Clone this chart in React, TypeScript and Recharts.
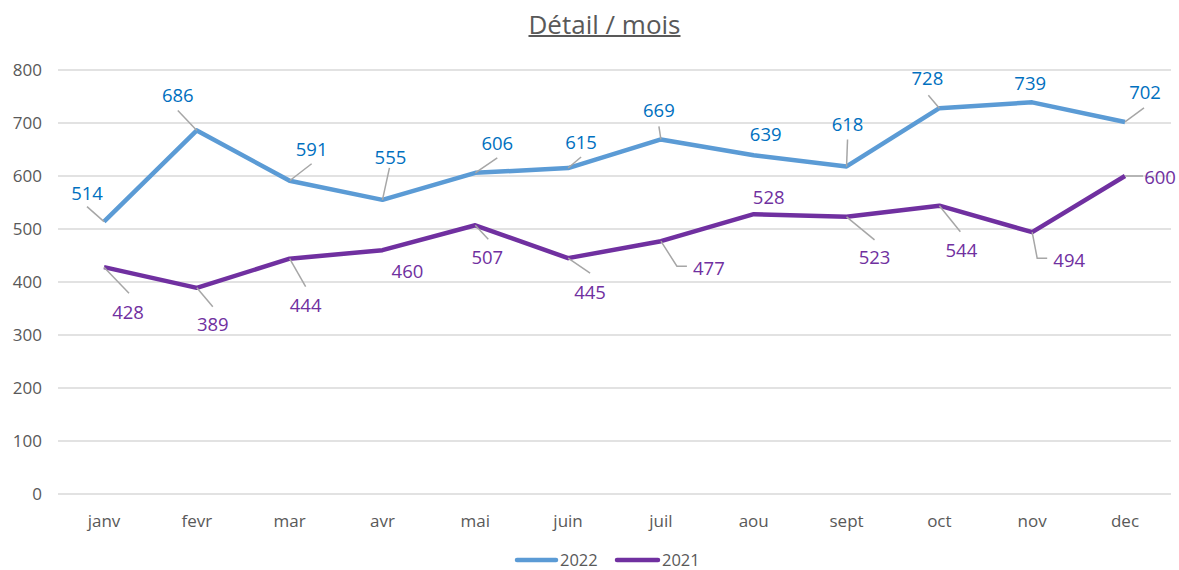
import React from 'react';
import { LineChart, Line, XAxis, YAxis, CartesianGrid, LabelList } from 'recharts';

const months = ['janv', 'fevr', 'mar', 'avr', 'mai', 'juin', 'juil', 'aou', 'sept', 'oct', 'nov', 'dec'];
const values2022 = [514, 686, 591, 555, 606, 615, 669, 639, 618, 728, 739, 702];
const values2021 = [428, 389, 444, 460, 507, 445, 477, 528, 523, 544, 494, 600];
const yTicks = [0, 100, 200, 300, 400, 500, 600, 700, 800];

// label placement (offset from point) and leader line vertices (offset from point)
type LabelLayout = { dx: number; dy: number; line: number[][] };
const layout2022: LabelLayout[] = [
  { dx: -17, dy: -29, line: [[-17, -15]] },
  { dx: -19, dy: -36, line: [[-19, -20]] },
  { dx: 22, dy: -32, line: [[22, -17]] },
  { dx: 8, dy: -43, line: [[7, -32]] },
  { dx: 22, dy: -30, line: [[22, -15]] },
  { dx: 13, dy: -27, line: [[13, -11]] },
  { dx: -2, dy: -30, line: [[-2, -13]] },
  { dx: 12, dy: -22, line: [] },
  { dx: 1, dy: -43, line: [[1, -27]] },
  { dx: -12, dy: -31, line: [[-11, -13]] },
  { dx: -2, dy: -20, line: [] },
  { dx: 20, dy: -30, line: [[19, -14]] },
];
const layout2021: LabelLayout[] = [
  { dx: 24, dy: 44, line: [[25, 26]] },
  { dx: 16, dy: 36, line: [[16, 19]] },
  { dx: 16, dy: 46, line: [[16, 28]] },
  { dx: 25, dy: 20, line: [] },
  { dx: 12, dy: 31, line: [[13, 14]] },
  { dx: 22, dy: 33, line: [[22, 15]] },
  { dx: 48, dy: 26, line: [[16, 25], [26, 25]] },
  { dx: 15, dy: -18, line: [] },
  { dx: 28, dy: 40, line: [[28, 23]] },
  { dx: 22, dy: 44, line: [[21, 26]] },
  { dx: 37, dy: 27, line: [[5, 26], [15, 26]] },
  { dx: 35, dy: 0, line: [[18, 0]] },
];

const data = months.map((m, i) => ({ month: m, y2022: values2022[i], y2021: values2021[i] }));

const FONT = '"Open Sans", "Noto Sans", sans-serif';
const BLUE = '#5B9BD5';
const PURPLE = '#7030A0';
const BLUE_TEXT = '#0070C0';
const GRAY = '#595959';

const makeLabel = (layout: LabelLayout[], color: string) => (props: any) => {
  const { x, y, value, index } = props;
  const L = layout[index];
  if (!L || x == null || y == null) return null;
  const pts = [[x, y], ...L.line.map(([a, b]) => [x + a, y + b])];
  return (
    <g key={`lbl-${color}-${index}`}>
      {L.line.length > 0 && (
        <polyline
          points={pts.map((p) => p.join(',')).join(' ')}
          stroke="#A6A6A6"
          strokeWidth={1.5}
          fill="none"
        />
      )}
      <text
        x={x + L.dx}
        y={y + L.dy}
        textAnchor="middle"
        dominantBaseline="central"
        fill={color}
        fontSize={18.5}
        fontFamily={FONT}
      >
        {value}
      </text>
    </g>
  );
};

export default function App() {
  return (
    <div style={{ position: 'absolute', left: 0, top: 0, width: 1179, height: 570, background: '#fff' }}>
      <div
        style={{
          position: 'absolute',
          top: 7,
          left: 30,
          width: 1149,
          textAlign: 'center',
          fontFamily: FONT,
          fontSize: 26,
          lineHeight: '34px',
          color: GRAY,
          textDecoration: 'underline',
          textDecorationThickness: '2px',
        }}
      >
        Détail / mois
      </div>
      <LineChart
        width={1179}
        height={570}
        data={data}
        margin={{ top: 70, right: 8, bottom: 36, left: 0 }}
      >
        <CartesianGrid horizontal vertical={false} stroke="#D9D9D9" strokeWidth={1.5} />
        <XAxis
          dataKey="month"
          height={40}
          tickLine={false}
          axisLine={false}
          tickSize={0}
          tickMargin={21}
          padding={{ left: 46, right: 46 }}
          tick={{ fill: GRAY, fontSize: 17, fontFamily: FONT }}
          interval={0}
        />
        <YAxis
          width={58}
          domain={[0, 800]}
          ticks={yTicks}
          tickLine={false}
          axisLine={false}
          tickSize={0}
          tickMargin={16}
          tick={{ fill: GRAY, fontSize: 17, fontFamily: FONT }}
        />
        <Line
          dataKey="y2022"
          stroke={BLUE}
          strokeWidth={4.5}
          dot={false}
          activeDot={false}
          isAnimationActive={false}
          strokeLinejoin="round"
        >
          <LabelList dataKey="y2022" content={makeLabel(layout2022, BLUE_TEXT)} />
        </Line>
        <Line
          dataKey="y2021"
          stroke={PURPLE}
          strokeWidth={4.5}
          dot={false}
          activeDot={false}
          isAnimationActive={false}
          strokeLinejoin="round"
        >
          <LabelList dataKey="y2021" content={makeLabel(layout2021, PURPLE)} />
        </Line>
      </LineChart>
      <svg
        width={1179}
        height={570}
        style={{ position: 'absolute', left: 0, top: 0, pointerEvents: 'none' }}
      >
        <line x1={517} y1={560} x2={556} y2={560} stroke={BLUE} strokeWidth={4.5} strokeLinecap="round" />
        <text x={560} y={559} dominantBaseline="central" fill={GRAY} fontSize={16.5} fontFamily={FONT}>
          2022
        </text>
        <line x1={617} y1={560} x2={658} y2={560} stroke={PURPLE} strokeWidth={4.5} strokeLinecap="round" />
        <text x={662} y={559} dominantBaseline="central" fill={GRAY} fontSize={16.5} fontFamily={FONT}>
          2021
        </text>
      </svg>
    </div>
  );
}
